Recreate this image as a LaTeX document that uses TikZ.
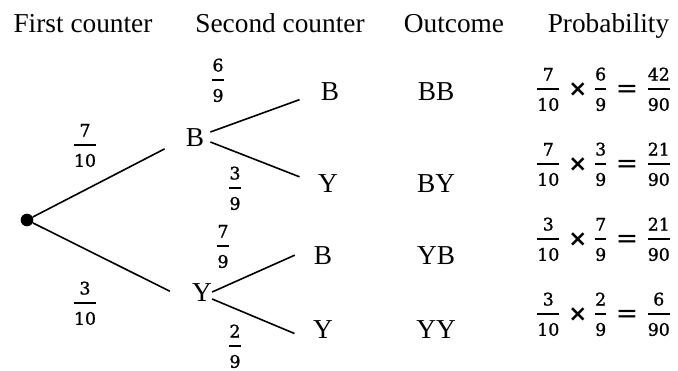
\documentclass[tikz,border=0pt]{standalone}
\usepackage{amsmath}
\usepackage{fontspec}
\setmainfont{Liberation Serif}
\newfontfamily\digitfont[FakeBold=1.2]{DejaVu Serif}
\newfontfamily\opfont{DejaVu Sans}
\usetikzlibrary{arrows.meta}
% fraction with a heavy bar, digits in the label font
\newcommand{\pfrac}[2]{\ensuremath{\genfrac{}{}{1.6pt}{0}{\hbox{\digitfont\rule[-1pt]{0pt}{1pt}#1}}{\hbox{\digitfont\rule{0pt}{10.5pt}#2}}}}
\newcommand{\ptimes}{\raisebox{-2.6pt}{\fontsize{17}{17}\opfont\bfseries ×}}
\newcommand{\pequals}{\raisebox{-3.3pt}{\fontsize{20}{20}\opfont =}}

\begin{document}
\begin{tikzpicture}[x=0.75pt, y=-0.75pt,
    every node/.style={inner sep=0pt},
    header/.style={font=\fontsize{20.5}{24}\selectfont, anchor=base},
    letter/.style={font=\fontsize{20.5}{24}\selectfont},
    prob/.style={font=\fontsize{13}{15}\selectfont, anchor=base},
    row/.style={font=\fontsize{13}{15}\selectfont, anchor=base west},
    branch/.style={line width=1.2pt}]
  \useasboundingbox (0,0) rectangle (678,371);
  % Column headers
  \node[header] (hfirst) at (83,32) {First counter};
  \node[header] (hsecond) at (280,32) {Second counter};
  \node[header] (houtcome) at (454,32) {Outcome};
  \node[header] (hprob) at (608.5,32) {Probability};
  % First counter
  \node[circle, fill, minimum size=9.5pt] (root) at (27,220) {};
  \node[letter] (b1) at (195,138) {B};
  \node[letter] (y1) at (202,293) {Y};
  % Second counter
  \node[letter] (bb) at (330,92) {B};
  \node[letter] (by) at (328,184) {Y};
  \node[letter] (yb) at (323,256) {B};
  \node[letter] (yy) at (323,330) {Y};
  % Branches
  \draw[branch, shorten >=17.7pt] (root) -- (b1.west);
  \draw[branch, shorten >=18.5pt] (root) -- (y1.south west);
  \draw[branch, shorten >=16.8pt] ([shift={(6,-6)}]b1.east) -- (bb.west);
  \draw[branch, shorten >=14.8pt] ([shift={(6,4)}]b1.east) -- (by.west);
  \draw[branch, shorten >=15.5pt] ([shift={(0,-1)}]y1.east) -- (yb.north west);
  \draw[branch, shorten >=15pt] ([shift={(0,6)}]y1.east) -- ([shift={(0,2)}]yy.south west);
  % Branch probabilities
  \node[prob] (pb) at (85,149.3) {\pfrac{7}{10}};
  \node[prob] (py) at (85,307.3) {\pfrac{3}{10}};
  \node[prob] (pbb) at (218,84.3) {\pfrac{6}{9}};
  \node[prob] (pby) at (235,192.3) {\pfrac{3}{9}};
  \node[prob] (pyb) at (223,250.3) {\pfrac{7}{9}};
  \node[prob] (pyy) at (235,350.3) {\pfrac{2}{9}};
  % Outcomes
  \node[letter] (obb) at (436,92) {BB};
  \node[letter] (oby) at (436,184) {BY};
  \node[letter] (oyb) at (436,256) {YB};
  \node[letter] (oyy) at (436,330) {YY};
  % Probabilities
  \node[row] (rbb) at (535.4,93.3) {\pfrac{7}{10}\hspace{5.5pt}\ptimes\hspace{4.75pt}\pfrac{6}{9}\hspace{6pt}\pequals\hspace{6pt}\pfrac{42}{90}};
  \node[row] (rby) at (535.4,168.3) {\pfrac{7}{10}\hspace{5.5pt}\ptimes\hspace{4.75pt}\pfrac{3}{9}\hspace{6pt}\pequals\hspace{6pt}\pfrac{21}{90}};
  \node[row] (ryb) at (535.4,243.3) {\pfrac{3}{10}\hspace{5.5pt}\ptimes\hspace{4.75pt}\pfrac{7}{9}\hspace{6pt}\pequals\hspace{6pt}\pfrac{21}{90}};
  \node[row] (ryy) at (535.4,318.3) {\pfrac{3}{10}\hspace{5.5pt}\ptimes\hspace{4.75pt}\pfrac{2}{9}\hspace{6pt}\pequals\hspace{6pt}\pfrac{6}{90}};
\end{tikzpicture}
\end{document}
